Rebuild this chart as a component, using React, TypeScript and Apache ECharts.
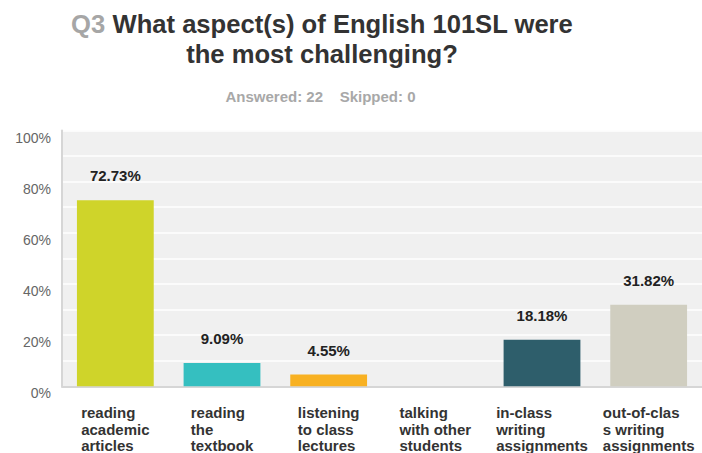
import React, { useEffect, useRef } from "react";
import * as echarts from "echarts";

const categories = [
  "reading\nacademic\narticles",
  "reading\nthe\ntextbook",
  "listening\nto class\nlectures",
  "talking\nwith other\nstudents",
  "in-class\nwriting\nassignments",
  "out-of-clas\ns writing\nassignments",
];
const values = [72.73, 9.09, 4.55, 0, 18.18, 31.82];
const barColors = ["#cfd42a", "#35bfc0", "#f8b122", "#8a8a8a", "#2e5e6b", "#d0cec0"];
const titleQ = "Q3";
const titleLine1 = "What aspect(s) of English 101SL were";
const titleLine2 = "the most challenging?";
const answered = "Answered: 22";
const skipped = "Skipped: 0";

export default function App() {
  const ref = useRef<HTMLDivElement>(null);
  useEffect(() => {
    document.body.style.margin = "0";
    const chart = echarts.init(ref.current!, null, { renderer: "svg" });
    chart.setOption({
      animation: false,
      textStyle: { fontFamily: "Liberation Sans, Arial, sans-serif" },
      graphic: [
        {
          type: "text",
          x: 322,
          y: 39,
          style: {
            text: `{q|${titleQ}} {t|${titleLine1}}\n{t|${titleLine2}}`,
            align: "center",
            verticalAlign: "middle",
            lineHeight: 30,
            font: "bold 25.6px Liberation Sans",
            rich: {
              q: { fill: "#a6a6a6", font: "bold 25.6px Liberation Sans", lineHeight: 30 },
              t: { fill: "#333333", font: "bold 25.6px Liberation Sans", lineHeight: 30 },
            },
          },
        },
        {
          type: "text",
          x: 320.5,
          y: 96,
          style: {
            text: `${answered}    ${skipped}`,
            align: "center",
            verticalAlign: "middle",
            fill: "#a8a8a8",
            font: "bold 15px Liberation Sans",
          },
        },
      ],
      grid: { left: 62, right: 0, top: 130.5, bottom: 65.5, backgroundColor: "#f0f0f0", show: true, borderWidth: 0 },
      xAxis: {
        type: "category",
        data: categories,
        axisLine: { show: true, lineStyle: { color: "#d6d6d6", width: 2 } },
        axisTick: { show: false },
        axisLabel: {
          interval: 0,
          margin: 18,
          align: "center",
          formatter: (v: string) => v.split("\n").map((l) => `{l|${l}}`).join("\n"),
          rich: {
            l: {
              align: "left",
              fontFamily: "Liberation Sans",
              fontWeight: "bold",
              fontSize: 15,
              lineHeight: 16.5,
              color: "#333333",
            },
          },
        },
      },
      yAxis: {
        type: "value",
        min: 0,
        max: 100,
        interval: 10,
        axisLine: { show: true, lineStyle: { color: "#d6d6d6", width: 2 } },
        axisTick: { show: false },
        splitLine: { show: true, lineStyle: { color: "#ffffff", width: 1.5 } },
        axisLabel: {
          margin: 11,
          verticalAlign: "top",
          color: "#666666",
          fontSize: 14,
          fontFamily: "Liberation Sans",
          formatter: (v: number) => (v % 20 === 0 ? `${v}%` : ""),
        },
      },
      series: [
        {
          type: "bar",
          barCategoryGap: "28%",
          data: values.map((v, i) => ({ value: v, itemStyle: { color: barColors[i] } })),
          label: {
            show: true,
            position: "top",
            distance: 17,
            fontFamily: "Liberation Sans",
            fontWeight: "bold",
            fontSize: 15,
            color: "#222222",
            formatter: (p: any) => (p.value > 0 ? `${p.value.toFixed(2)}%` : ""),
          },
        },
      ],
    });
    return () => chart.dispose();
  }, []);
  return <div ref={ref} style={{ width: 702, height: 453 }} />;
}
